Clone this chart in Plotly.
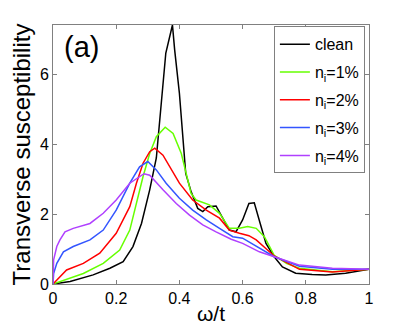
import plotly.graph_objects as go

# omega/t values and susceptibility
clean_x = [0, 0.054, 0.127, 0.18, 0.222, 0.253, 0.28, 0.306, 0.327, 0.348, 0.357, 0.378,
           0.385, 0.4, 0.411, 0.42, 0.437, 0.458, 0.474, 0.49, 0.516, 0.537, 0.558, 0.579,
           0.6, 0.62, 0.637, 0.655, 0.674, 0.7, 0.726, 0.768, 0.82, 0.863, 0.926, 1.0]
clean_y = [0, 0.07, 0.26, 0.45, 0.64, 1.07, 1.73, 2.69, 3.6, 5.64, 6.6, 7.4,
           6.69, 5.45, 4.11, 3.16, 2.64, 2.16, 2.07, 2.21, 2.23, 1.9, 1.54, 1.49,
           1.83, 2.3, 2.32, 1.75, 1.16, 0.78, 0.49, 0.31, 0.27, 0.26, 0.31, 0.42]

n1_x = [0, 0.022, 0.096, 0.159, 0.211, 0.243, 0.264, 0.285, 0.306, 0.327, 0.355, 0.38,
        0.406, 0.437, 0.453, 0.495, 0.527, 0.558, 0.59, 0.616, 0.643, 0.669, 0.7,
        0.74, 0.78, 0.884, 1.0]
n1_y = [0, 0.07, 0.3, 0.59, 0.97, 1.54, 2.3, 3.07, 3.73, 4.21, 4.48, 4.3,
        3.73, 2.59, 2.4, 2.26, 2.02, 1.59, 1.59, 1.64, 1.59, 1.35, 0.82,
        0.58, 0.45, 0.35, 0.42]

n2_x = [0, 0.012, 0.043, 0.096, 0.148, 0.2, 0.243, 0.264, 0.285, 0.306, 0.322, 0.348,
        0.369, 0.4, 0.442, 0.485, 0.527, 0.558, 0.59, 0.62, 0.643, 0.7, 0.78, 0.884, 1.0]
n2_y = [0, 0.11, 0.4, 0.59, 0.88, 1.45, 2.21, 2.88, 3.45, 3.78, 3.88, 3.68,
        3.35, 2.88, 2.4, 2.11, 1.88, 1.54, 1.45, 1.38, 1.26, 0.8, 0.42, 0.34, 0.42]

n3_x = [0, 0.002, 0.012, 0.033, 0.064, 0.117, 0.159, 0.2, 0.243, 0.274, 0.3, 0.327,
        0.358, 0.4, 0.442, 0.485, 0.527, 0.569, 0.6, 0.653, 0.7, 0.78, 0.884, 1.0]
n3_y = [0, 0.3, 0.59, 0.92, 1.07, 1.26, 1.54, 2.11, 2.88, 3.35, 3.5, 3.26,
        2.88, 2.45, 2.11, 1.83, 1.59, 1.35, 1.31, 1.02, 0.78, 0.51, 0.42, 0.42]

n4_x = [0, 0.002, 0.012, 0.022, 0.038, 0.064, 0.117, 0.159, 0.2, 0.243, 0.288, 0.306,
        0.348, 0.39, 0.432, 0.474, 0.516, 0.564, 0.6, 0.653, 0.7, 0.78, 0.884, 1.0]
n4_y = [0, 0.69, 1.07, 1.26, 1.49, 1.59, 1.73, 2.02, 2.4, 2.88, 3.15, 3.11,
        2.69, 2.3, 1.97, 1.69, 1.49, 1.28, 1.16, 0.92, 0.78, 0.54, 0.45, 0.42]

names = ["clean", "n<sub>i</sub>=1%", "n<sub>i</sub>=2%", "n<sub>i</sub>=3%", "n<sub>i</sub>=4%"]
colors = ["#000000", "#66ff00", "#ff0000", "#3355ff", "#b040ff"]
series = [(clean_x, clean_y), (n1_x, n1_y), (n2_x, n2_y), (n3_x, n3_y), (n4_x, n4_y)]

fig = go.Figure()
for i, ((xs, ys), name, color) in enumerate(zip(series, names, colors)):
    fig.add_trace(go.Scatter(x=xs, y=ys, mode='lines', name=name, legendgroup=str(i),
                             line=dict(color=color, width=1.5)))

# the page body adds an 8px offset, so margins are shifted to compensate
fig.update_layout(
    width=407, height=332,
    margin=dict(l=45, r=46, t=17, b=56, autoexpand=False),
    plot_bgcolor='white', paper_bgcolor='white',
    font=dict(family='Liberation Sans, Arial', size=16, color='black'),
    legend=dict(x=0.987, y=0.995, xanchor='right', yanchor='top',
                bordercolor='#808080', borderwidth=1, bgcolor='white',
                font=dict(size=16), tracegroupgap=4, itemwidth=30),
    showlegend=True,
)
fig.update_xaxes(range=[0, 1], tickvals=[0, 0.2, 0.4, 0.6, 0.8, 1],
                 ticktext=['0', '0.2', '0.4', '0.6', '0.8', '1'],
                 ticks='inside', ticklen=4, tickcolor='#808080', automargin=False,
                 showline=True, linecolor='#808080', mirror='ticks', showgrid=False,
                 zeroline=False, tickfont=dict(size=16),
                 title=dict(text='ω/t', font=dict(size=21), standoff=0))
fig.update_yaxes(range=[0, 7.4], tickvals=[0, 2, 4, 6],
                 ticks='inside', ticklen=4, tickcolor='#808080', automargin=False,
                 showline=True, linecolor='#808080', mirror='ticks', showgrid=False,
                 zeroline=False, tickfont=dict(size=16),
                 title=dict(text='Transverse susceptibility', font=dict(size=24), standoff=2))
fig.add_annotation(x=0.03, y=0.985, xref='paper', yref='paper', text='(a)',
                   showarrow=False, xanchor='left', yanchor='top', font=dict(size=29))

fig.write_html("out.html")
